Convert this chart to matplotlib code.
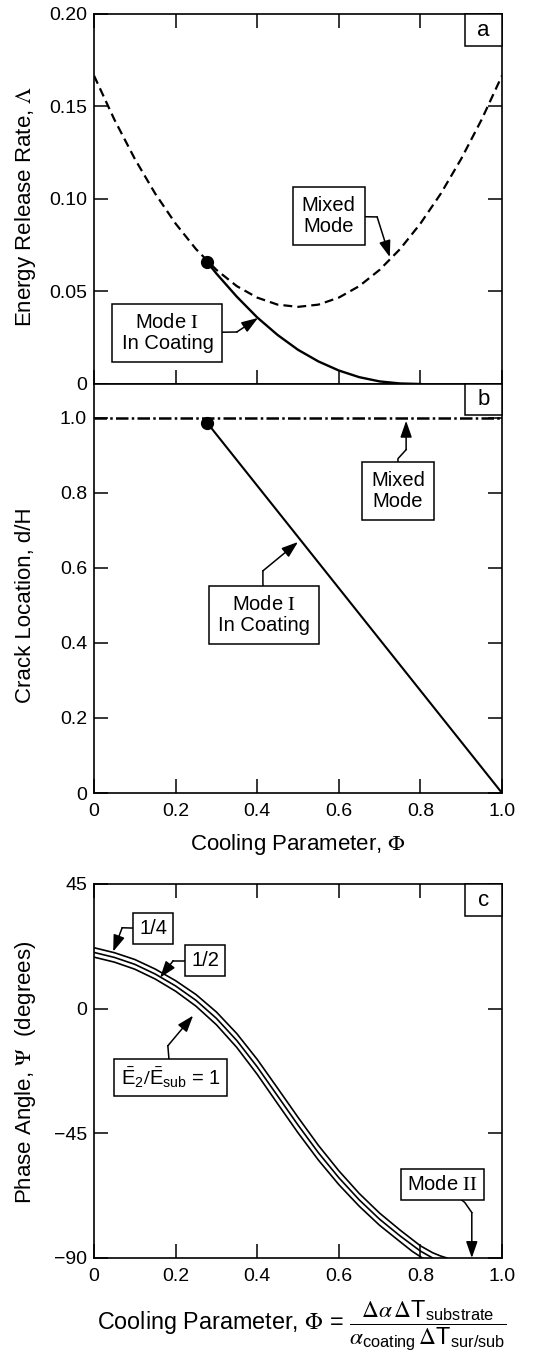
import matplotlib.pyplot as plt
from matplotlib.patches import Rectangle

plt.rcParams['font.family'] = ['Liberation Sans', 'DejaVu Sans']
plt.rcParams['mathtext.fontset'] = 'custom'
plt.rcParams['mathtext.rm'] = 'STIXGeneral'
plt.rcParams['mathtext.it'] = 'STIXGeneral:italic'
plt.rcParams['mathtext.bf'] = 'STIXGeneral:bold'
plt.rcParams['mathtext.sf'] = 'Liberation Sans'

# (a) energy release rate vs cooling parameter
phi_mixed = [0.0, 0.05, 0.10, 0.15, 0.20, 0.25, 0.30, 0.35, 0.40, 0.45, 0.50,
             0.55, 0.60, 0.65, 0.70, 0.75, 0.80, 0.85, 0.90, 0.95, 1.0]
lam_mixed = [0.1667, 0.1429, 0.1217, 0.1029, 0.0867, 0.0729, 0.0617, 0.0529, 0.0467, 0.0429, 0.0417,
             0.0429, 0.0467, 0.0529, 0.0617, 0.0729, 0.0867, 0.1029, 0.1217, 0.1429, 0.1667]
phi_mode1 = [0.277, 0.30, 0.35, 0.40, 0.45, 0.50, 0.55, 0.60, 0.65, 0.70, 0.75, 0.80]
lam_mode1 = [0.066, 0.0597, 0.0472, 0.0360, 0.0265, 0.0185, 0.0122, 0.0073, 0.0037, 0.0014, 0.0003, 0.0]

# transition point
phi_trans = 0.277
lam_trans = 0.066
dh_trans = 0.987

# (b) crack location
phi_loc_mixed = [0.0, 1.0]
dh_mixed = [1.0, 1.0]
phi_loc_mode1 = [0.277, 1.0]
dh_mode1 = [0.987, 0.0]

# (c) phase angle for E2/Esub = 1/4, 1/2, 1
phi_quarter = [0.0, 0.05, 0.10, 0.15, 0.20, 0.25, 0.30, 0.35, 0.40, 0.45, 0.50,
               0.55, 0.60, 0.65, 0.70, 0.75, 0.80, 0.83, 0.85, 0.865]
psi_quarter = [22.0, 20.2, 17.75, 14.3, 10.1, 5.1, -1.2, -9.0, -18.3, -28.7, -39.2,
               -49.35, -58.5, -66.7, -73.8, -79.9, -85.6, -88.1, -89.3, -90.0]
phi_half = [0.0, 0.05, 0.10, 0.15, 0.20, 0.25, 0.30, 0.35, 0.40, 0.45, 0.50,
            0.55, 0.60, 0.65, 0.70, 0.75, 0.80, 0.83]
psi_half = [20.3, 18.5, 16.0, 12.5, 8.2, 3.0, -3.5, -11.5, -21.0, -31.5, -42.0,
            -52.0, -61.0, -69.0, -76.0, -82.0, -87.5, -90.0]
phi_one = [0.0, 0.05, 0.10, 0.15, 0.20, 0.25, 0.30, 0.35, 0.40, 0.45, 0.50,
           0.55, 0.60, 0.65, 0.70, 0.75, 0.78, 0.805]
psi_one = [18.6, 16.8, 14.25, 10.7, 6.3, 0.9, -5.8, -14.0, -23.7, -34.3, -44.8,
           -54.65, -63.5, -71.3, -78.2, -84.1, -87.6, -90.0]

x_ticks = [0, 0.2, 0.4, 0.6, 0.8, 1.0]
x_ticklabels = ['0', '0.2', '0.4', '0.6', '0.8', '1.0']
a_ticks = [0, 0.05, 0.10, 0.15, 0.20]
a_ticklabels = ['0', '0.05', '0.10', '0.15', '0.20']
b_ticks = [0, 0.2, 0.4, 0.6, 0.8, 1.0]
b_ticklabels = ['0', '0.2', '0.4', '0.6', '0.8', '1.0']
c_ticks = [-90, -45, 0, 45]
c_ticklabels = ['\u221290', '\u221245', '0', '45']

W, H = 558, 1357
fig = plt.figure(figsize=(W / 100, H / 100), dpi=100)


def axes_px(top, bottom, left=94, right=502):
    return fig.add_axes([left / W, 1 - bottom / H, (right - left) / W, (bottom - top) / H])


ax_a = axes_px(14, 384)
ax_b = axes_px(384, 793)
ax_c = axes_px(884, 1258)

FS_TICK = 14
FS_LAB = 16
FS_BOX = 14.5


def style(ax, top=True):
    for s in ax.spines.values():
        s.set_linewidth(1.2)
    ax.tick_params(direction='in', length=10, width=1.1, top=top, right=True,
                   labelsize=FS_TICK)
    ax.tick_params(axis='x', pad=7)
    ax.tick_params(axis='y', pad=5)
    ax.set_xlim(0, 1.0)
    ax.set_xticks(x_ticks)


def callout(ax, text, pts, pad=0.45):
    # pts: box centre, optional bends, arrow tip last
    xs = [p[0] for p in pts[:-1]]
    ys = [p[1] for p in pts[:-1]]
    ax.plot(xs, ys, color='k', lw=1.1, zorder=3)
    ax.annotate('', xy=pts[-1], xytext=pts[-2], zorder=3, annotation_clip=False,
                arrowprops=dict(arrowstyle='-|>,head_length=1.0,head_width=0.35',
                                color='k', lw=1.1, shrinkA=0, shrinkB=0))
    ax.text(pts[0][0], pts[0][1], text, ha='center', va='center', fontsize=FS_BOX,
            linespacing=1.1, zorder=5,
            bbox=dict(boxstyle='square,pad=%s' % pad, fc='white', ec='k', lw=1.1))


def letter(ax, txt, y0):
    ax.add_patch(Rectangle((0.909, y0), 0.091, 1 - y0, transform=ax.transAxes,
                           fc='white', ec='k', lw=1.1, zorder=5, clip_on=False))
    ax.text(0.9545, (1 + y0) / 2, txt, transform=ax.transAxes, ha='center', va='center',
            fontsize=FS_LAB, zorder=6)


def ylab(ax, text, yc):
    ax.set_ylabel(text, fontsize=FS_LAB)
    ax.yaxis.set_label_coords(-0.169, yc)
    ax.yaxis.label.set_va('center')


# panel a
ax = ax_a
style(ax)
ax.plot(phi_mixed, lam_mixed, color='k', lw=1.6, ls=(0, (4, 2.3)))
ax.plot(phi_mode1, lam_mode1, color='k', lw=1.7)
ax.plot([phi_trans], [lam_trans], 'o', color='k', ms=8.5)
ax.set_ylim(0, 0.20)
ax.set_yticks(a_ticks)
ax.set_yticklabels(a_ticklabels)
ax.set_xticklabels([])
ylab(ax, r'Energy Release Rate, $\Lambda$', 0.481)
letter(ax, 'a', 0.9135)
callout(ax, 'Mixed\nMode', [(0.575, 0.0908), (0.694, 0.0903), (0.725, 0.0686)])
callout(ax, 'Mode $\\mathrm{I}$\nIn Coating', [(0.18, 0.0276), (0.350, 0.0281), (0.402, 0.0357)])

# panel b
ax = ax_b
style(ax, top=False)
ax.plot(phi_loc_mixed, dh_mixed, color='k', lw=1.8, ls=(0, (5, 1.3, 1, 1.3)))
ax.plot(phi_loc_mode1, dh_mode1, color='k', lw=1.5)
ax.plot([phi_trans], [dh_trans], 'o', color='k', ms=8.5)
ax.set_ylim(0, 1.09)
ax.set_yticks(b_ticks)
ax.set_yticklabels(b_ticklabels)
ax.set_xticklabels(x_ticklabels)
ylab(ax, 'Crack Location, d/H', 0.46)
ax.set_xlabel(r'Cooling Parameter, $\Phi$', fontsize=FS_LAB)
ax.xaxis.set_label_coords(0.5, -0.127)
ax.xaxis.label.set_va('center')
letter(ax, 'b', 0.924)
callout(ax, 'Mixed\nMode', [(0.745, 0.805), (0.745, 0.891), (0.765, 0.915), (0.765, 0.992)])
callout(ax, 'Mode $\\mathrm{I}$\nIn Coating', [(0.417, 0.475), (0.414, 0.56), (0.414, 0.592), (0.50, 0.669)])

# panel c
ax = ax_c
style(ax)
for px, py in [(phi_quarter, psi_quarter), (phi_half, psi_half), (phi_one, psi_one)]:
    ax.plot(px, py, color='k', lw=1.2)
ax.set_ylim(-90, 45)
ax.set_yticks(c_ticks)
ax.set_yticklabels(c_ticklabels)
ax.set_xticklabels(x_ticklabels)
ylab(ax, r'Phase Angle, $\Psi$  (degrees)', 0.497)
ax.set_xlabel(r'Cooling Parameter, $\Phi$ = $\dfrac{\Delta\alpha\,\Delta\mathsf{T}_{\mathsf{substrate}}}'
              r'{\alpha_{\mathsf{coating}}\,\Delta\mathsf{T}_{\mathsf{sur/sub}}}$', fontsize=16.8)
ax.xaxis.set_label_coords(0.51, -0.179)
ax.xaxis.label.set_va('center')
letter(ax, 'c', 0.914)
callout(ax, '1/4', [(0.145, 28.9), (0.069, 29.2), (0.047, 20.6)], pad=0.3)
callout(ax, '1/2', [(0.272, 17.3), (0.194, 17.3), (0.162, 11.2)], pad=0.3)
callout(ax, r'$\bar{\mathsf{E}}_{\mathsf{2}}/\bar{\mathsf{E}}_{\mathsf{sub}}\mathsf{\,=\,1}$',
        [(0.1875, -24.9), (0.181, -13.4), (0.243, -2.5)], pad=0.3)
callout(ax, 'Mode $\\mathrm{II}$', [(0.855, -63.5), (0.909, -70.0), (0.926, -73.6), (0.926, -90.0)], pad=0.3)

fig.savefig('out.png', dpi=100)
